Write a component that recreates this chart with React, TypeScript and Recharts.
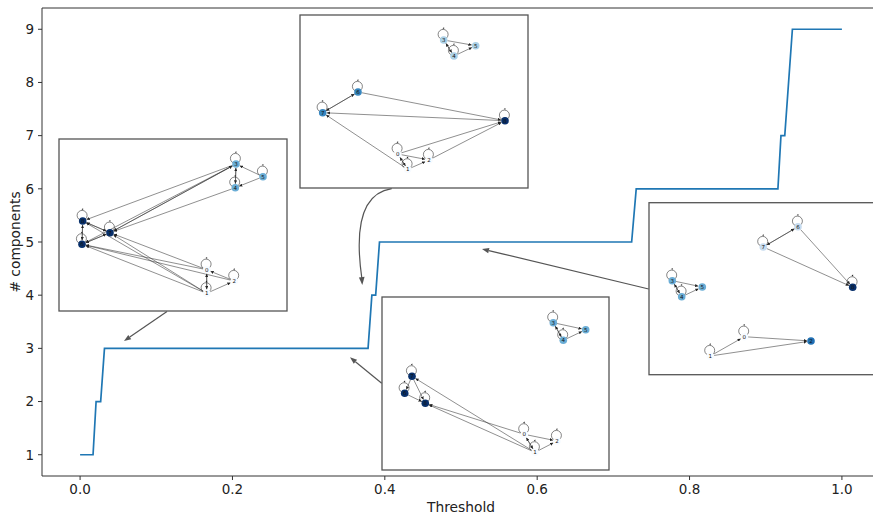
import React from 'react';
import { LineChart, Line, XAxis, YAxis, Label } from 'recharts';

// step curve: number of components vs threshold
const thresholds = [0, 0.017, 0.021, 0.027, 0.032, 0.378, 0.383, 0.388, 0.393, 0.724, 0.73, 0.916, 0.92, 0.925, 0.935, 1.0];
const components = [1, 1, 2, 2, 3, 3, 4, 4, 5, 5, 6, 6, 7, 7, 9, 9];
const xTicks = [0, 0.2, 0.4, 0.6, 0.8, 1.0];
const yTicks = [1, 2, 3, 4, 5, 6, 7, 8, 9];

const data = thresholds.map((t, i) => ({ t, n: components[i] }));

const FONT = '"DejaVu Sans", sans-serif';
const W0 = '#f7fbff';
const NAVY = '#08306b';

// inset graph drawings: [label, x, y, colour] inside each box
type Node = [number, number, number, string];
type Inset = {
  box: [number, number, number, number];
  nodes: Node[];
  edges: [number, number][];
  noLoop: number[];
};

const inset1: Inset = {
  box: [59, 139, 228, 172],
  nodes: [
    [3, 177, 25, '#6baed6'], [5, 204, 37.7, '#6baed6'], [4, 176.3, 48.7, '#6baed6'],
    [8, 23.7, 82, NAVY], [7, 51, 93.7, NAVY], [6, 23, 105.3, NAVY],
    [0, 147.7, 130.7, W0], [2, 175.3, 142, W0], [1, 147.7, 154.3, W0],
  ],
  edges: [[5, 3], [5, 4], [3, 4], [4, 3], [3, 8], [3, 7], [7, 3], [4, 7], [3, 6], [0, 7], [0, 6], [2, 6],
    [1, 7], [1, 8], [1, 6], [2, 0], [1, 2], [0, 1], [1, 0], [8, 7], [7, 8], [8, 6], [6, 8], [7, 6], [6, 7]],
  noLoop: [],
};

const inset2: Inset = {
  box: [300, 15, 228, 173],
  nodes: [
    [3, 143.7, 25, '#abd0e6'], [5, 175.7, 30.7, '#abd0e6'], [4, 154, 41, '#abd0e6'],
    [6, 58, 77, '#3787c0'], [7, 22.7, 97.7, '#3787c0'], [8, 205, 105.7, NAVY],
    [0, 97.7, 139, W0], [2, 129, 145, W0], [1, 107.7, 154.3, W0],
  ],
  edges: [[6, 7], [7, 6], [6, 8], [8, 7], [1, 7], [0, 8], [2, 8], [0, 2], [1, 2], [0, 1], [1, 0],
    [3, 5], [4, 5], [3, 4], [4, 3]],
  noLoop: [5],
};

const inset3: Inset = {
  box: [382, 297, 227, 173],
  nodes: [
    [3, 171.3, 25.7, '#6baed6'], [5, 203.7, 32.7, '#6baed6'], [4, 181.3, 43.3, '#6baed6'],
    [7, 30, 79.3, NAVY], [6, 22.7, 96.3, NAVY], [8, 43.3, 106.3, NAVY],
    [0, 142.3, 137.3, W0], [2, 175, 144, W0], [1, 153, 155.3, W0],
  ],
  edges: [[7, 6], [6, 8], [7, 8], [1, 7], [0, 8], [1, 8], [0, 2], [1, 2], [0, 1], [1, 0],
    [3, 5], [4, 5], [3, 4], [4, 3]],
  noLoop: [5],
};

const inset4: Inset = {
  box: [649, 202.7, 228, 172],
  nodes: [
    [6, 149, 24, '#c6dbef'], [7, 114.3, 44.3, '#c6dbef'], [8, 203.7, 84.6, NAVY],
    [3, 23.3, 78, '#6baed6'], [5, 53.3, 84.3, '#6baed6'], [4, 32.7, 94, '#6baed6'],
    [0, 95.3, 134, W0], [1, 61.3, 153.3, W0], [2, 162, 138.3, '#2171b5'],
  ],
  edges: [[7, 6], [6, 7], [6, 8], [7, 8], [1, 0], [0, 2], [1, 2], [3, 5], [4, 5], [3, 4], [4, 3]],
  noLoop: [5, 2],
};

const R = 3.8;

function GraphInset({ inset }: { inset: Inset }) {
  const [bx, by, bw, bh] = inset.box;
  const pos: Record<number, [number, number]> = {};
  inset.nodes.forEach(([k, x, y]) => (pos[k] = [x, y]));
  return (
    <g>
      <rect x={bx} y={by} width={bw} height={bh} fill="#fff" stroke="#555" strokeWidth={1.3} />
      <g transform={`translate(${bx},${by})`}>
        {inset.edges.map(([s, t], i) => {
          const [x1, y1] = pos[s];
          const [x2, y2] = pos[t];
          const len = Math.hypot(x2 - x1, y2 - y1);
          const ux = (x2 - x1) / len;
          const uy = (y2 - y1) / len;
          return (
            <line key={i} x1={x1 + ux * R} y1={y1 + uy * R} x2={x2 - ux * (R + 0.3)} y2={y2 - uy * (R + 0.3)}
              stroke="#333" strokeWidth={0.55} markerEnd="url(#tip)" />
          );
        })}
        {inset.nodes.filter(([k]) => !inset.noLoop.includes(k)).map(([k, x, y]) => (
          <g key={'l' + k}>
            <circle cx={x - 0.6} cy={y - 5.6} r={5} fill="none" stroke="#333" strokeWidth={0.6} />
            <path d={`M${x - 1.2},${y - 11.8} l1.6,-0.9 l0,1.8 z`} fill="#222" />
          </g>
        ))}
        {inset.nodes.map(([k, x, y, c]) => (
          <g key={'n' + k}>
            <circle cx={x} cy={y} r={R} fill={c} />
            <text x={x} y={y} fontSize={5.5} fontFamily={FONT} fill="#111" textAnchor="middle" dominantBaseline="central">{k}</text>
          </g>
        ))}
      </g>
    </g>
  );
}

function Arrow({ x1, y1, x2, y2 }: { x1: number; y1: number; x2: number; y2: number }) {
  const len = Math.hypot(x2 - x1, y2 - y1);
  const ux = (x2 - x1) / len;
  const uy = (y2 - y1) / len;
  const hl = 7, hw = 2.6;
  const bxp = x2 - ux * hl, byp = y2 - uy * hl;
  return (
    <g>
      <line x1={x1} y1={y1} x2={bxp} y2={byp} stroke="#555" strokeWidth={1.2} />
      <path d={`M${x2},${y2} L${bxp - uy * hw},${byp + ux * hw} L${bxp + uy * hw},${byp - ux * hw} z`} fill="#555" />
    </g>
  );
}

export default function App() {
  return (
    <div style={{ position: 'fixed', left: 0, top: 0, width: 873, height: 515, overflow: 'hidden', background: '#fff' }}>
      <LineChart width={900} height={515} data={data} margin={{ top: 8, right: 20, bottom: 0, left: 0 }}>
        <XAxis
          dataKey="t"
          type="number"
          domain={[-0.05, 1.05]}
          ticks={xTicks}
          tickFormatter={(v: number) => v.toFixed(1)}
          height={39}
          stroke="#333"
          tickSize={4}
          tickMargin={4}
          tick={{ fontSize: 13.5, fontFamily: FONT, fill: '#222' }}
          allowDataOverflow
        >
          <Label value="Threshold" position="insideBottom" offset={3} style={{ fontSize: 13.8, fontFamily: FONT, fill: '#222' }} />
        </XAxis>
        <YAxis
          type="number"
          domain={[0.6, 9.4]}
          ticks={yTicks}
          width={42}
          stroke="#333"
          tickSize={4}
          tickMargin={4}
          tick={{ fontSize: 13.5, fontFamily: FONT, fill: '#222' }}
          allowDataOverflow
        >
          <Label
            content={() => (
              <text x={15} y={242} transform="rotate(-90 15 242)" textAnchor="middle" dominantBaseline="central"
                style={{ fontSize: 13.8, fontFamily: FONT, fill: '#222' }}>
                # components
              </text>
            )}
          />
        </YAxis>
        <Line dataKey="n" type="linear" stroke="#1f77b4" strokeWidth={1.7} dot={false} isAnimationActive={false} />
      </LineChart>
      <svg width={873} height={515} style={{ position: 'absolute', left: 0, top: 0, pointerEvents: 'none' }}>
        <defs>
          <marker id="tip" viewBox="0 0 6 6" refX={6} refY={3} markerWidth={3.2} markerHeight={3.2} orient="auto" markerUnits="userSpaceOnUse">
            <path d="M0,0 L6,3 L0,6 z" fill="#222" />
          </marker>
        </defs>
        <line x1={42} y1={8} x2={873} y2={8} stroke="#333" strokeWidth={1} />
        <GraphInset inset={inset1} />
        <GraphInset inset={inset2} />
        <GraphInset inset={inset3} />
        <GraphInset inset={inset4} />
        <Arrow x1={167} y1={311.5} x2={124} y2={341} />
        <Arrow x1={381.7} y1={383.3} x2={350} y2={357.3} />
        <Arrow x1={648.7} y1={289} x2={482} y2={249} />
        <path d="M391.7,188.7 Q350,195 361.8,278" fill="none" stroke="#555" strokeWidth={1.2} />
        <path d="M362.3,285 L358.9,277.4 L364.6,276.8 z" fill="#555" />
      </svg>
    </div>
  );
}
